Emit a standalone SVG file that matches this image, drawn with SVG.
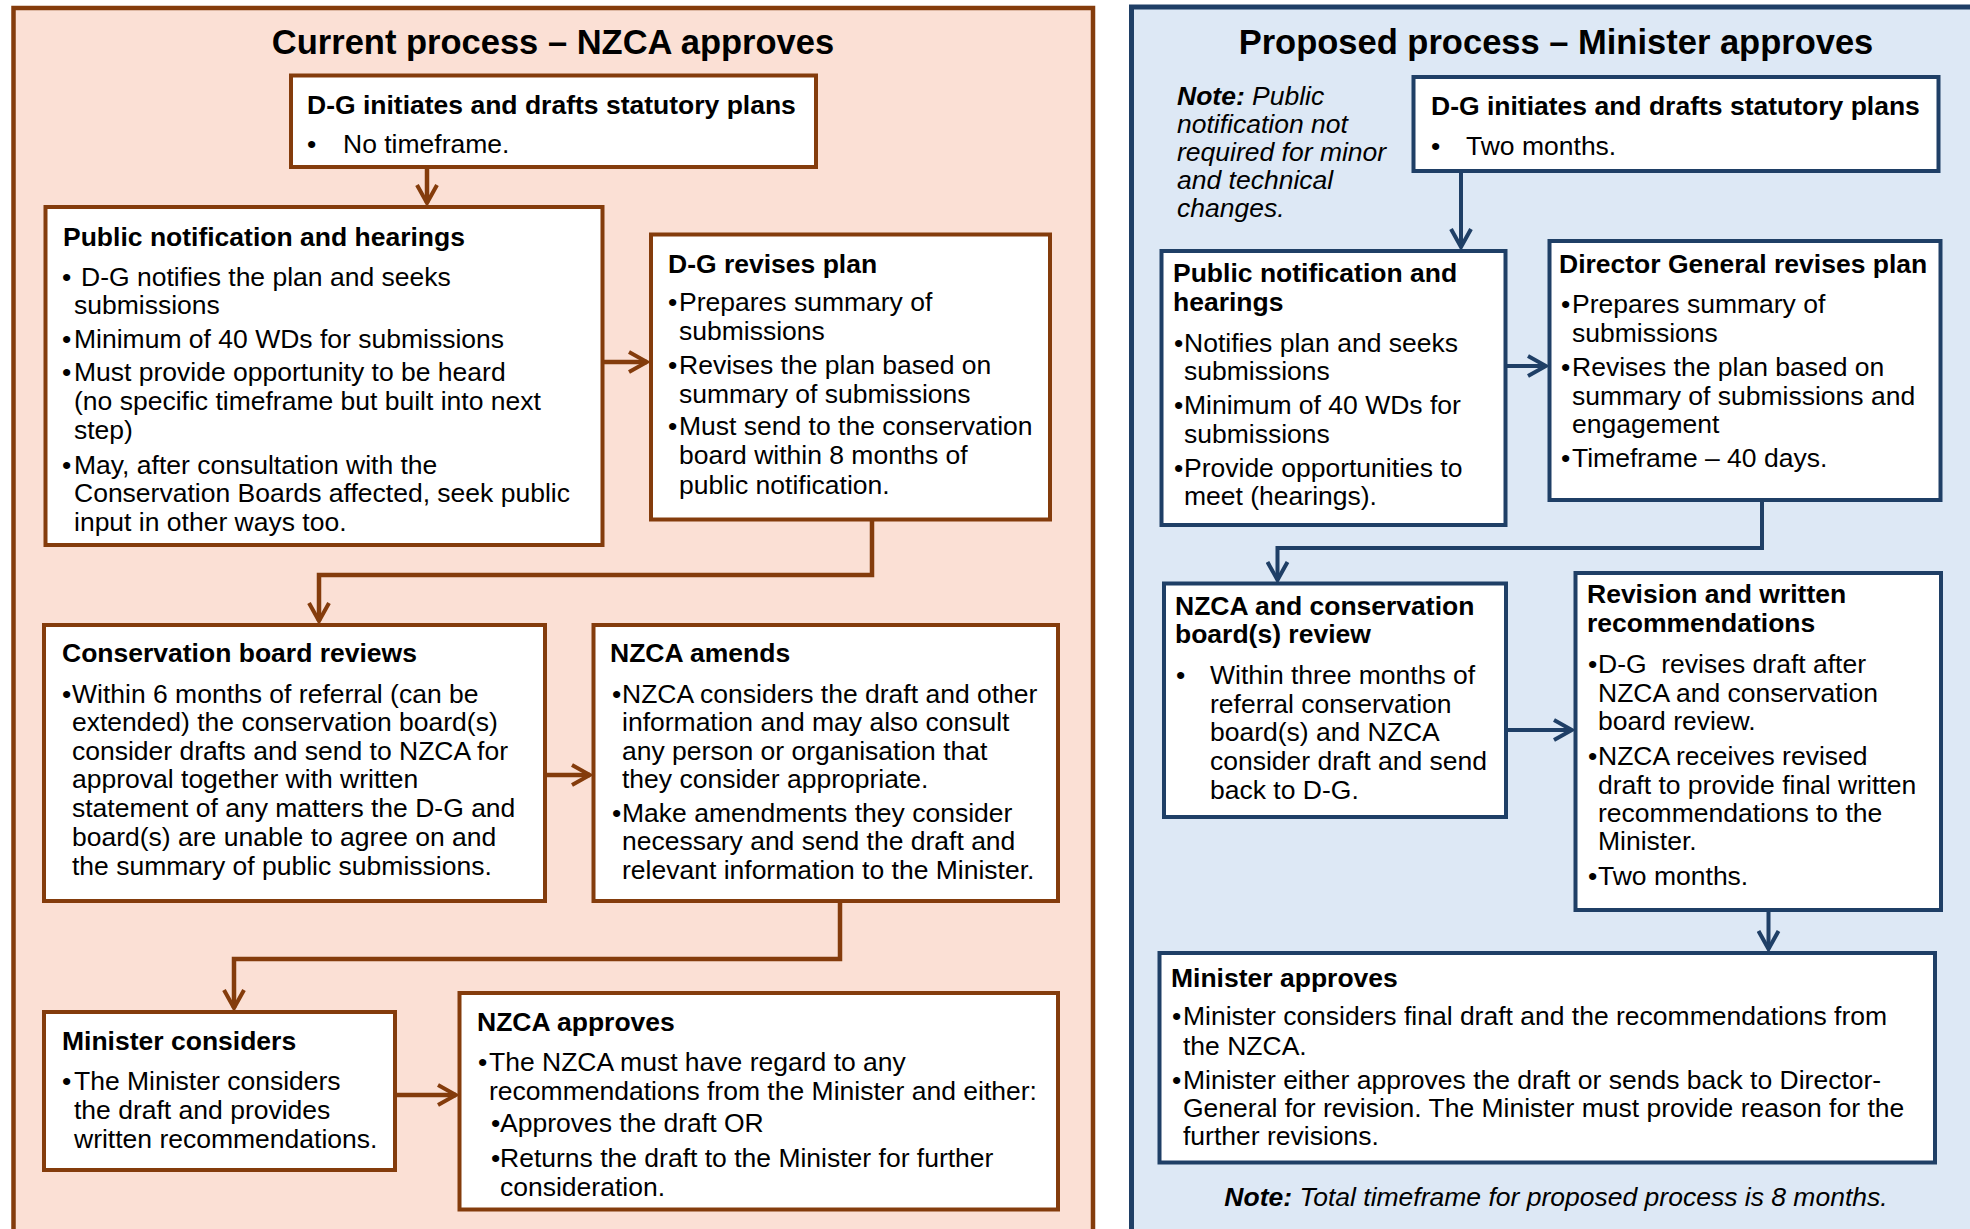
<svg xmlns="http://www.w3.org/2000/svg" width="1970" height="1229" viewBox="0 0 1970 1229">
<style>
text{font-family:"Liberation Sans",Arial,sans-serif;font-size:26.5px;fill:#000}
.ttl{font-size:34.5px;font-weight:bold;text-anchor:middle}
.h{font-weight:bold}
.it{font-style:italic}
.b{font-weight:bold}
.bl{fill:#fff;stroke:#843C0C;stroke-width:4}
.br{fill:#fff;stroke:#1F3F66;stroke-width:4}
.cl{fill:none;stroke:#843C0C;stroke-width:4.5}
.cr{fill:none;stroke:#1F3F66;stroke-width:4}
</style>
<defs>
<marker id="ah-l" markerUnits="userSpaceOnUse" viewBox="0 0 24 24" refX="21" refY="12" markerWidth="24" markerHeight="24" orient="auto">
<path d="M3,2 L21,12 L3,22" fill="none" stroke="#843C0C" stroke-width="4"/>
</marker>
<marker id="ah-r" markerUnits="userSpaceOnUse" viewBox="0 0 24 24" refX="21" refY="12" markerWidth="24" markerHeight="24" orient="auto">
<path d="M3,2 L21,12 L3,22" fill="none" stroke="#1F3F66" stroke-width="4"/>
</marker>
</defs>
<rect x="0" y="0" width="1970" height="1229" fill="#fff"/>
<g id="panel-current">
<rect x="13.5" y="8" width="1079.5" height="1250" fill="#FBE0D5" stroke="#843C0C" stroke-width="4.5"/>
<text class="ttl" x="553" y="54">Current process – NZCA approves</text>
</g>
<g id="panel-proposed">
<rect x="1131.5" y="7" width="900" height="1250" fill="#DDE8F5" stroke="#1F3F66" stroke-width="5"/>
<text class="ttl" x="1556" y="54">Proposed process – Minister approves</text>
<text class="it" x="1177" y="105"><tspan class="b">Note:</tspan> Public</text>
<text class="it" x="1177" y="133">notification not</text>
<text class="it" x="1177" y="161">required for minor</text>
<text class="it" x="1177" y="189">and technical</text>
<text class="it" x="1177" y="217">changes.</text>
<text class="it" x="1556" y="1206" text-anchor="middle"><tspan class="b">Note:</tspan> Total timeframe for proposed process is 8 months.</text>
</g>
<g id="connectors">
<path class="cl" d="M427,167 V203" marker-end="url(#ah-l)"/>
<path class="cl" d="M602.5,362 H647" marker-end="url(#ah-l)"/>
<path class="cl" d="M872,519.5 V575 H319 V621" marker-end="url(#ah-l)"/>
<path class="cl" d="M545,775 H590" marker-end="url(#ah-l)"/>
<path class="cl" d="M840,901 V959 H234 V1008" marker-end="url(#ah-l)"/>
<path class="cl" d="M395,1095 H456" marker-end="url(#ah-l)"/>
<path class="cr" d="M1461,171 V247" marker-end="url(#ah-r)"/>
<path class="cr" d="M1505.5,366 H1546" marker-end="url(#ah-r)"/>
<path class="cr" d="M1762,500 V548 H1277.5 V580" marker-end="url(#ah-r)"/>
<path class="cr" d="M1506,730 H1572" marker-end="url(#ah-r)"/>
<path class="cr" d="M1768.5,910 V949" marker-end="url(#ah-r)"/>
</g>
<g id="node-l1">
<rect class="bl" x="291" y="75.5" width="525" height="91.5"/>
<text class="h" x="307" y="114">D-G initiates and drafts statutory plans</text>
<text x="307" y="153">•</text><text x="343" y="153">No timeframe.</text>
</g>
<g id="node-l2">
<rect class="bl" x="45.5" y="207" width="557" height="338"/>
<text class="h" x="63" y="246">Public notification and hearings</text>
<text x="62" y="286">•</text><text x="81" y="286">D-G notifies the plan and seeks</text>
<text x="74" y="314">submissions</text>
<text x="62" y="348">•</text><text x="74" y="348">Minimum of 40 WDs for submissions</text>
<text x="62" y="381">•</text><text x="74" y="381">Must provide opportunity to be heard</text>
<text x="74" y="410">(no specific timeframe but built into next</text>
<text x="74" y="439">step)</text>
<text x="62" y="474">•</text><text x="74" y="474">May, after consultation with the</text>
<text x="74" y="502">Conservation Boards affected, seek public</text>
<text x="74" y="531">input in other ways too.</text>
</g>
<g id="node-l3">
<rect class="bl" x="651" y="234.5" width="399" height="285"/>
<text class="h" x="668" y="273">D-G revises plan</text>
<text x="668" y="311">•</text><text x="679" y="311">Prepares summary of</text>
<text x="679" y="340">submissions</text>
<text x="668" y="374">•</text><text x="679" y="374">Revises the plan based on</text>
<text x="679" y="403">summary of submissions</text>
<text x="668" y="435">•</text><text x="679" y="435">Must send to the conservation</text>
<text x="679" y="464">board within 8 months of</text>
<text x="679" y="494">public notification.</text>
</g>
<g id="node-l4">
<rect class="bl" x="44" y="625" width="501" height="276"/>
<text class="h" x="62" y="662">Conservation board reviews</text>
<text x="62" y="703">•</text><text x="72" y="703">Within 6 months of referral (can be</text>
<text x="72" y="731">extended) the conservation board(s)</text>
<text x="72" y="760">consider drafts and send to NZCA for</text>
<text x="72" y="788">approval together with written</text>
<text x="72" y="817">statement of any matters the D-G and</text>
<text x="72" y="846">board(s) are unable to agree on and</text>
<text x="72" y="875">the summary of public submissions.</text>
</g>
<g id="node-l5">
<rect class="bl" x="593.5" y="625" width="464.5" height="276"/>
<text class="h" x="610" y="662">NZCA amends</text>
<text x="612" y="703">•</text><text x="622" y="703">NZCA considers the draft and other</text>
<text x="622" y="731">information and may also consult</text>
<text x="622" y="760">any person or organisation that</text>
<text x="622" y="788">they consider appropriate.</text>
<text x="612" y="822">•</text><text x="622" y="822">Make amendments they consider</text>
<text x="622" y="850">necessary and send the draft and</text>
<text x="622" y="879">relevant information to the Minister.</text>
</g>
<g id="node-l6">
<rect class="bl" x="44" y="1012" width="351" height="158"/>
<text class="h" x="62" y="1050">Minister considers</text>
<text x="62" y="1090">•</text><text x="74" y="1090">The Minister considers</text>
<text x="74" y="1119">the draft and provides</text>
<text x="74" y="1148">written recommendations.</text>
</g>
<g id="node-l7">
<rect class="bl" x="459.5" y="993" width="598.5" height="216.5"/>
<text class="h" x="477" y="1031">NZCA approves</text>
<text x="478" y="1071">•</text><text x="489" y="1071">The NZCA must have regard to any</text>
<text x="489" y="1100">recommendations from the Minister and either:</text>
<text x="491" y="1132">•</text><text x="500" y="1132">Approves the draft OR</text>
<text x="491" y="1167">•</text><text x="500" y="1167">Returns the draft to the Minister for further</text>
<text x="500" y="1196">consideration.</text>
</g>
<g id="node-r1">
<rect class="br" x="1413.5" y="77" width="525" height="94"/>
<text class="h" x="1431" y="115">D-G initiates and drafts statutory plans</text>
<text x="1431" y="155">•</text><text x="1466" y="155">Two months.</text>
</g>
<g id="node-r2">
<rect class="br" x="1161.5" y="251" width="344" height="274"/>
<text class="h" x="1173" y="282">Public notification and</text>
<text class="h" x="1173" y="311">hearings</text>
<text x="1174" y="352">•</text><text x="1184" y="352">Notifies plan and seeks</text>
<text x="1184" y="380">submissions</text>
<text x="1174" y="414">•</text><text x="1184" y="414">Minimum of 40 WDs for</text>
<text x="1184" y="443">submissions</text>
<text x="1174" y="477">•</text><text x="1184" y="477">Provide opportunities to</text>
<text x="1184" y="505">meet (hearings).</text>
</g>
<g id="node-r3">
<rect class="br" x="1549.5" y="241" width="391" height="259"/>
<text class="h" x="1559" y="273">Director General revises plan</text>
<text x="1561" y="313">•</text><text x="1572" y="313">Prepares summary of</text>
<text x="1572" y="342">submissions</text>
<text x="1561" y="376">•</text><text x="1572" y="376">Revises the plan based on</text>
<text x="1572" y="405">summary of submissions and</text>
<text x="1572" y="433">engagement</text>
<text x="1561" y="467">•</text><text x="1572" y="467">Timeframe – 40 days.</text>
</g>
<g id="node-r4">
<rect class="br" x="1164" y="583.5" width="342" height="233.5"/>
<text class="h" x="1175" y="615">NZCA and conservation</text>
<text class="h" x="1175" y="643">board(s) review</text>
<text x="1176" y="684">•</text><text x="1210" y="684">Within three months of</text>
<text x="1210" y="713">referral conservation</text>
<text x="1210" y="741">board(s) and NZCA</text>
<text x="1210" y="770">consider draft and send</text>
<text x="1210" y="799">back to D-G.</text>
</g>
<g id="node-r5">
<rect class="br" x="1575.5" y="573" width="365.5" height="337"/>
<text class="h" x="1587" y="603">Revision and written</text>
<text class="h" x="1587" y="632">recommendations</text>
<text x="1588" y="673">•</text><text x="1598" y="673">D-G&#160; revises draft after</text>
<text x="1598" y="702">NZCA and conservation</text>
<text x="1598" y="730">board review.</text>
<text x="1588" y="765">•</text><text x="1598" y="765">NZCA receives revised</text>
<text x="1598" y="794">draft to provide final written</text>
<text x="1598" y="822">recommendations to the</text>
<text x="1598" y="850">Minister.</text>
<text x="1588" y="885">•</text><text x="1598" y="885">Two months.</text>
</g>
<g id="node-r6">
<rect class="br" x="1159.5" y="953" width="775.5" height="209.5"/>
<text class="h" x="1171" y="987">Minister approves</text>
<text x="1172" y="1025">•</text><text x="1183" y="1025">Minister considers final draft and the recommendations from</text>
<text x="1183" y="1055">the NZCA.</text>
<text x="1172" y="1089">•</text><text x="1183" y="1089">Minister either approves the draft or sends back to Director-</text>
<text x="1183" y="1117">General for revision. The Minister must provide reason for the</text>
<text x="1183" y="1145">further revisions.</text>
</g>
</svg>
